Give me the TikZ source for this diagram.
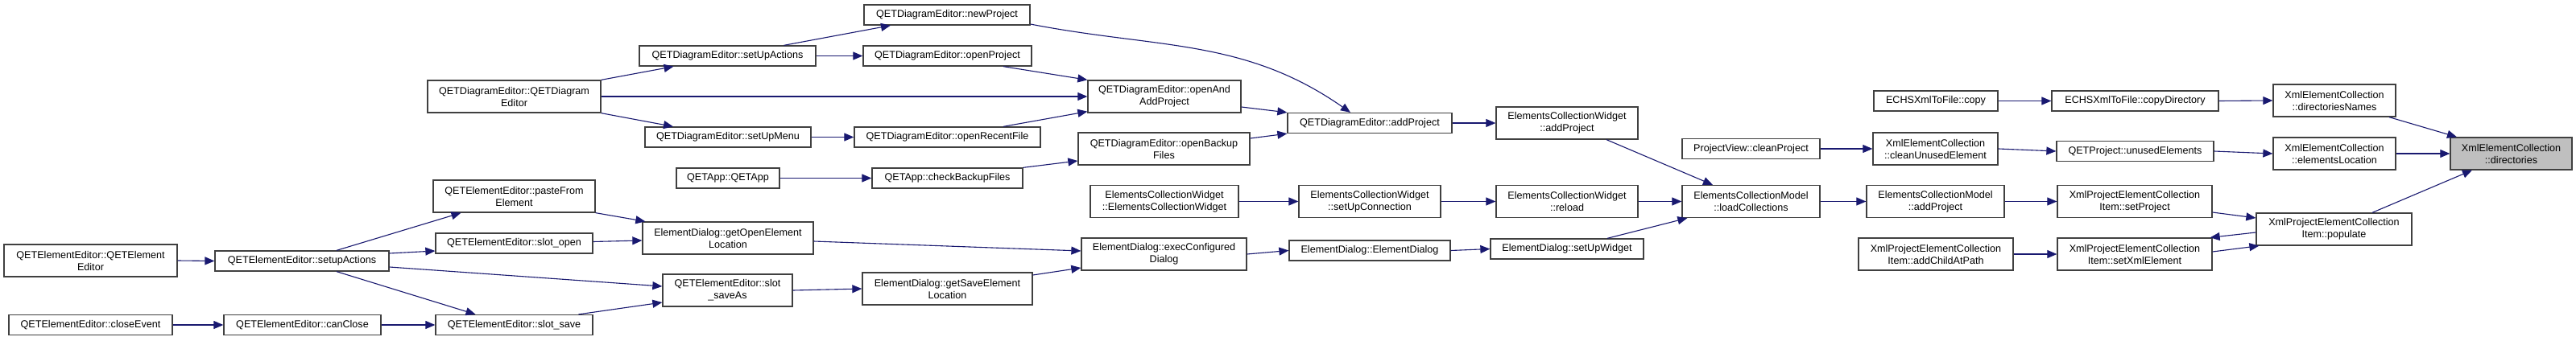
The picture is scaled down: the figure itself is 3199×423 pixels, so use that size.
\documentclass[tikz,border=0pt]{standalone}
\usepackage{fontspec}
\setmainfont{Liberation Sans}
\usepackage{tikz}
\usetikzlibrary{arrows.meta}
\definecolor{edgec}{HTML}{191970}
\definecolor{boxc}{HTML}{404040}
\definecolor{curc}{HTML}{BFBFBF}
\tikzset{
  arr/.style={-{Triangle[length=12pt,width=10pt]}, line width=1.1pt, color=edgec},
  fn/.style={draw=boxc, fill=white, line width=1.3pt, inner sep=0pt, align=center,
             font=\fontsize{12.6}{15}\selectfont, minimum height=25pt},
  fn2/.style={fn, minimum height=40pt},
  cur/.style={fn2, fill=curc},
}
\begin{document}
\begin{tikzpicture}[x=1pt, y=-1pt]
  \useasboundingbox[fill=white] (0,0) rectangle (3199,423);
  \node[fn2, minimum width=215pt] (eeCtor)         at (112.5,324)  {QETElementEditor::QETElement\\Editor};
  \node[fn,  minimum width=216pt] (eeSetupActions) at (375,324.5)  {QETElementEditor::setupActions};
  \node[fn,  minimum width=203pt] (eeCloseEvent)   at (112.5,404)  {QETElementEditor::closeEvent};
  \node[fn,  minimum width=195pt] (eeCanClose)     at (375.5,404)  {QETElementEditor::canClose};
  \node[fn,  minimum width=219pt] (dSetUpActions)  at (903.5,69.5) {QETDiagramEditor::setUpActions};
  \node[fn2, minimum width=215pt] (dCtor)          at (638.5,120)  {QETDiagramEditor::QETDiagram\\Editor};
  \node[fn,  minimum width=206pt] (dSetUpMenu)     at (904,170.5)  {QETDiagramEditor::setUpMenu};
  \node[fn,  minimum width=128pt] (appCtor)        at (904,221.5)  {QETApp::QETApp};
  \node[fn2, minimum width=201pt] (pasteFrom)      at (638.5,244)  {QETElementEditor::pasteFrom\\Element};
  \node[fn,  minimum width=195pt] (slotOpen)       at (638.5,302.5){QETElementEditor::slot\_open};
  \node[fn2, minimum width=212pt] (getOpen)        at (904,296)    {ElementDialog::getOpenElement\\Location};
  \node[fn2, minimum width=161pt] (slotSaveAs)     at (903.5,361)  {QETElementEditor::slot\\\_saveAs};
  \node[fn,  minimum width=195pt] (slotSave)       at (638.5,404)  {QETElementEditor::slot\_save};
  \node[fn,  minimum width=206pt] (newProject)     at (1176,18.5)  {QETDiagramEditor::newProject};
  \node[fn,  minimum width=209pt] (openProject)    at (1176.5,69.5){QETDiagramEditor::openProject};
  \node[fn2, minimum width=190pt] (openAndAdd)     at (1446,120)   {QETDiagramEditor::openAnd\\AddProject};
  \node[fn,  minimum width=231pt] (openRecent)     at (1176.5,170.5){QETDiagramEditor::openRecentFile};
  \node[fn2, minimum width=213pt] (openBackup)     at (1445.5,185) {QETDiagramEditor::openBackup\\Files};
  \node[fn,  minimum width=187pt] (checkBackup)    at (1176.5,221.5){QETApp::checkBackupFiles};
  \node[fn2, minimum width=184pt] (ecwCtor)        at (1446,250.5) {ElementsCollectionWidget\\::ElementsCollectionWidget};
  \node[fn2, minimum width=205pt] (execConf)       at (1445.5,316) {ElementDialog::execConfigured\\Dialog};
  \node[fn2, minimum width=211pt] (getSave)        at (1176.5,359) {ElementDialog::getSaveElement\\Location};
  \node[fn,  minimum width=204pt] (addProject)     at (1701,153)   {QETDiagramEditor::addProject};
  \node[fn2, minimum width=176pt] (ecwAddProject)  at (1946,153)   {ElementsCollectionWidget\\::addProject};
  \node[fn2, minimum width=176pt] (ecwSetUpConn)   at (1701,250.5) {ElementsCollectionWidget\\::setUpConnection};
  \node[fn2, minimum width=176pt] (ecwReload)      at (1946,250.5) {ElementsCollectionWidget\\::reload};
  \node[fn,  minimum width=200pt] (edCtor)         at (1701,311.5) {ElementDialog::ElementDialog};
  \node[fn,  minimum width=190pt] (edSetUpWidget)  at (1946,309.5) {ElementDialog::setUpWidget};
  \node[fn2, minimum width=171pt] (loadColl)       at (2174.5,250.5){ElementsCollectionModel\\::loadCollections};
  \node[fn,  minimum width=171pt] (projView)       at (2174.5,185) {ProjectView::cleanProject};
  \node[fn,  minimum width=154pt] (echsCopy)       at (2404,125.5) {ECHSXmlToFile::copy};
  \node[fn,  minimum width=207pt] (echsCopyDir)    at (2651.5,125.5){ECHSXmlToFile::copyDirectory};
  \node[fn2, minimum width=155pt] (xecClean)       at (2403.5,185) {XmlElementCollection\\::cleanUnusedElement};
  \node[fn,  minimum width=195pt] (qetUnused)      at (2651.5,188) {QETProject::unusedElements};
  \node[fn2, minimum width=171pt] (ecmAdd)         at (2403.5,250.5){ElementsCollectionModel\\::addProject};
  \node[fn2, minimum width=192pt] (xpSetProject)   at (2651,250.5) {XmlProjectElementCollection\\Item::setProject};
  \node[fn2, minimum width=192pt] (xpAddChild)     at (2404,316)   {XmlProjectElementCollection\\Item::addChildAtPath};
  \node[fn2, minimum width=192pt] (xpSetXml)       at (2651,316)   {XmlProjectElementCollection\\Item::setXmlElement};
  \node[fn2, minimum width=152pt] (xecDirNames)    at (2899,125)   {XmlElementCollection\\::directoriesNames};
  \node[fn2, minimum width=152pt] (xecElemLoc)     at (2899,191)   {XmlElementCollection\\::elementsLocation};
  \node[cur, minimum width=151pt] (xecDir)         at (3118.5,191) {XmlElementCollection\\::directories};
  \node[fn2, minimum width=193pt] (xpPopulate)     at (2898.5,285) {XmlProjectElementCollection\\Item::populate};
  \foreach \a/\b in {eeCtor/eeSetupActions, eeCloseEvent/eeCanClose, eeCanClose/slotSave,
      dCtor/openAndAdd, dSetUpActions/openProject, dSetUpMenu/openRecent, appCtor/checkBackup,
      slotSaveAs/getSave, ecwCtor/ecwSetUpConn, execConf/edCtor, addProject/ecwAddProject,
      ecwSetUpConn/ecwReload, edCtor/edSetUpWidget, ecwReload/loadColl, projView/xecClean,
      loadColl/ecmAdd, echsCopy/echsCopyDir, xecClean/qetUnused, ecmAdd/xpSetProject,
      xpAddChild/xpSetXml, echsCopyDir/xecDirNames, qetUnused/xecElemLoc, xecElemLoc/xecDir}
    \draw[arr] (\a.east) -- (\b.west);
  \draw[arr] ([xshift=43pt]eeSetupActions.north) -- ([xshift=-66pt]pasteFrom.south);
  \draw[arr] ([yshift=9.5pt]eeSetupActions.east) -- ([yshift=-9.5pt]slotOpen.west);
  \draw[arr] ([yshift=-7.5pt]eeSetupActions.east) -- ([yshift=5pt]slotSaveAs.west);
  \draw[arr] ([xshift=43pt]eeSetupActions.south) -- ([xshift=-48pt]slotSave.north);
  \draw[arr] (dCtor.north east) -- ([xshift=-67pt]dSetUpActions.south);
  \draw[arr] (dCtor.south east) -- ([xshift=-68pt]dSetUpMenu.north);
  \draw[arr] ([xshift=70pt]dSetUpActions.north) -- ([xshift=-70pt]newProject.south);
  \draw[arr] (pasteFrom.south east) -- ([xshift=4pt]getOpen.north west);
  \draw[arr] ([yshift=2pt]slotOpen.east) -- ([yshift=-3pt]getOpen.west);
  \draw[arr] ([xshift=80pt]slotSave.north) -- ([yshift=-15pt]slotSaveAs.west);
  \draw[arr] ([yshift=-4pt]getOpen.east) -- ([yshift=4pt]execConf.west);
  \draw[arr] ([yshift=17pt]getSave.east) -- ([yshift=-17pt]execConf.west);
  \draw[arr] ([xshift=69.5pt]openProject.south) -- (openAndAdd.north west);
  \draw[arr] ([xshift=69.5pt]openRecent.north) -- ([yshift=2pt]openAndAdd.south west);
  \draw[arr] (checkBackup.north east) -- ([yshift=-15pt]openBackup.west);
  \draw[arr] ([yshift=-11.5pt]newProject.east) to[out=-11, in=145] ([xshift=-24pt]addProject.north);
  \draw[arr] ([yshift=-13pt]openAndAdd.east) -- (addProject.north west);
  \draw[arr] ([yshift=13pt]openBackup.east) -- (addProject.south west);
  \draw[arr] ([xshift=49pt]ecwAddProject.south) -- ([xshift=-47.5pt]loadColl.north);
  \draw[arr] ([xshift=50pt]edSetUpWidget.north) -- ([xshift=7pt]loadColl.south west);
  \draw[arr] ([yshift=-13.5pt]xpSetProject.east) -- ([yshift=14pt]xpPopulate.west);
  \draw[arr] ([yshift=-4pt]xpPopulate.west) -- ([xshift=-3pt]xpSetXml.north east);
  \draw[arr] ([yshift=3pt]xpSetXml.east) -- ([xshift=4pt]xpPopulate.south west);
  \draw[arr] ([xshift=68pt]xecDirNames.south) -- ([xshift=-67.5pt]xecDir.north);
  \draw[arr] ([xshift=47.5pt]xpPopulate.north) -- ([xshift=-48.5pt]xecDir.south);
\end{tikzpicture}
\end{document}
